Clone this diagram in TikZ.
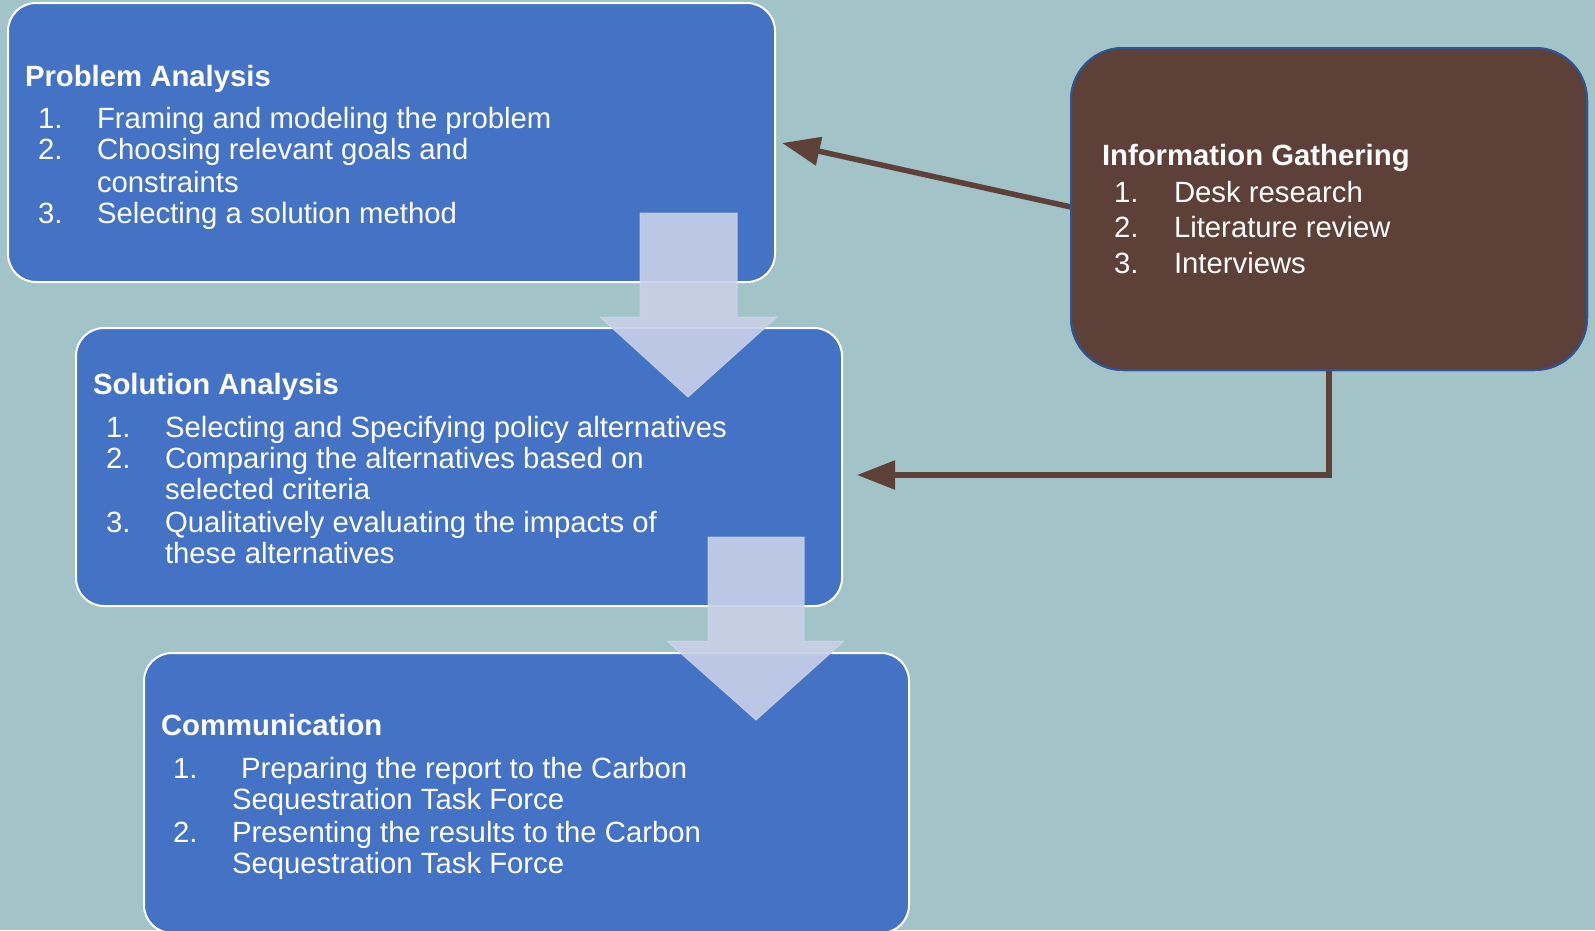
\documentclass[tikz,border=0pt]{standalone}
\usepackage{fontspec}
\setmainfont{Liberation Sans}
\usetikzlibrary{arrows.meta}
\definecolor{bgc}{HTML}{A2C3C8}
\definecolor{boxblue}{HTML}{4472C4}
\definecolor{brn}{HTML}{5D4037}
\definecolor{brnedge}{HTML}{2F5496}
\definecolor{arrfill}{HTML}{C8D1E8}
\definecolor{arredge}{HTML}{CDD5EC}
\tikzset{
  bluebox/.style={draw=white, line width=2pt, fill=boxblue, rounded corners=28pt, anchor=north west, inner sep=0pt, outer sep=0pt},
  brownbox/.style={draw=brnedge, line width=2pt, fill=brn, rounded corners=52pt, anchor=north west, inner sep=0pt, outer sep=0pt},
  txt/.style={anchor=base west, inner sep=0pt, outer sep=0pt, text=white, font=\fontsize{29.3}{33}\selectfont},
  ttl/.style={txt, font=\fontsize{29.3}{33}\selectfont\bfseries},
  blockarrow/.style={fill=arrfill, fill opacity=0.9, draw=arredge, draw opacity=0.8, line width=1pt},
  brarrow/.style={draw=brn, line width=5.5pt, -{Triangle[length=38pt,width=28pt]}}
}
\begin{document}
\begin{tikzpicture}[x=1pt,y=-1pt]
\useasboundingbox (0,0) rectangle (1595,930);
\fill[bgc] (0,0) rectangle (1595,930);

% boxes
\node[bluebox, minimum width=767pt, minimum height=279pt] (pa) at (8,3) {};
\node[bluebox, minimum width=766pt, minimum height=278pt] (sa) at (76,328) {};
\node[bluebox, minimum width=765pt, minimum height=280pt] (cm) at (144,653) {};
\node[brownbox, minimum width=516pt, minimum height=322pt] (ig) at (1071,48) {};

% brown connectors, then the box again on top of their ends
\coordinate (tipA) at (782,143);
\coordinate (tipB) at (857,475);
\draw[brarrow] ([yshift=2pt]ig.west) -- (tipA);
\draw[brarrow] ([yshift=-1pt]ig.south) |- (tipB);
\node[brownbox, minimum width=516pt, minimum height=322pt] (igtop) at (1071,48) {};

% Problem Analysis text
\node[ttl] (pat) at (25,86) {Problem Analysis};
\node[txt] (pa1n) at (38,128) {1.};
\node[txt] (pa1t) at (97,128) {Framing and modeling the problem};
\node[txt] (pa2n) at (38,159) {2.};
\node[txt] (pa2t) at (97,159) {Choosing relevant goals and};
\node[txt] (pa2c) at (97,192) {constraints};
\node[txt] (pa3n) at (38,223) {3.};
\node[txt] (pa3t) at (97,223) {Selecting a solution method};

% Solution Analysis text
\node[ttl] (sat) at (93,394) {Solution Analysis};
\node[txt] (sa1n) at (106,437) {1.};
\node[txt] (sa1t) at (165,437) {Selecting and Specifying policy alternatives};
\node[txt] (sa2n) at (106,468) {2.};
\node[txt] (sa2t) at (165,468) {Comparing the alternatives based on};
\node[txt] (sa2c) at (165,499) {selected criteria};
\node[txt] (sa3n) at (106,532) {3.};
\node[txt] (sa3t) at (165,532) {Qualitatively evaluating the impacts of};
\node[txt] (sa3c) at (165,563) {these alternatives};

% Communication text
\node[ttl] (cmt) at (161,735) {Communication};
\node[txt] (cm1n) at (173,778) {1.};
\node[txt] (cm1t) at (241,778) {Preparing the report to the Carbon};
\node[txt] (cm1c) at (232,809) {Sequestration Task Force};
\node[txt] (cm2n) at (173,842) {2.};
\node[txt] (cm2t) at (232,842) {Presenting the results to the Carbon};
\node[txt] (cm2c) at (232,873) {Sequestration Task Force};

% Information Gathering text
\node[ttl] (igt) at (1102,165) {Information Gathering};
\node[txt] (ig1n) at (1114,202) {1.};
\node[txt] (ig1t) at (1174,202) {Desk research};
\node[txt] (ig2n) at (1114,237) {2.};
\node[txt] (ig2t) at (1174,237) {Literature review};
\node[txt] (ig3n) at (1114,273) {3.};
\node[txt] (ig3t) at (1174,273) {Interviews};

% block arrows
\draw[blockarrow] (640,213) -- (737,213) -- (737,317) -- (777,317) -- (688,397) -- (600,317) -- (640,317) -- cycle;
\draw[blockarrow] (708,537) -- (804,537) -- (804,641) -- (844,641) -- (756,720) -- (667,641) -- (708,641) -- cycle;
\end{tikzpicture}
\end{document}
